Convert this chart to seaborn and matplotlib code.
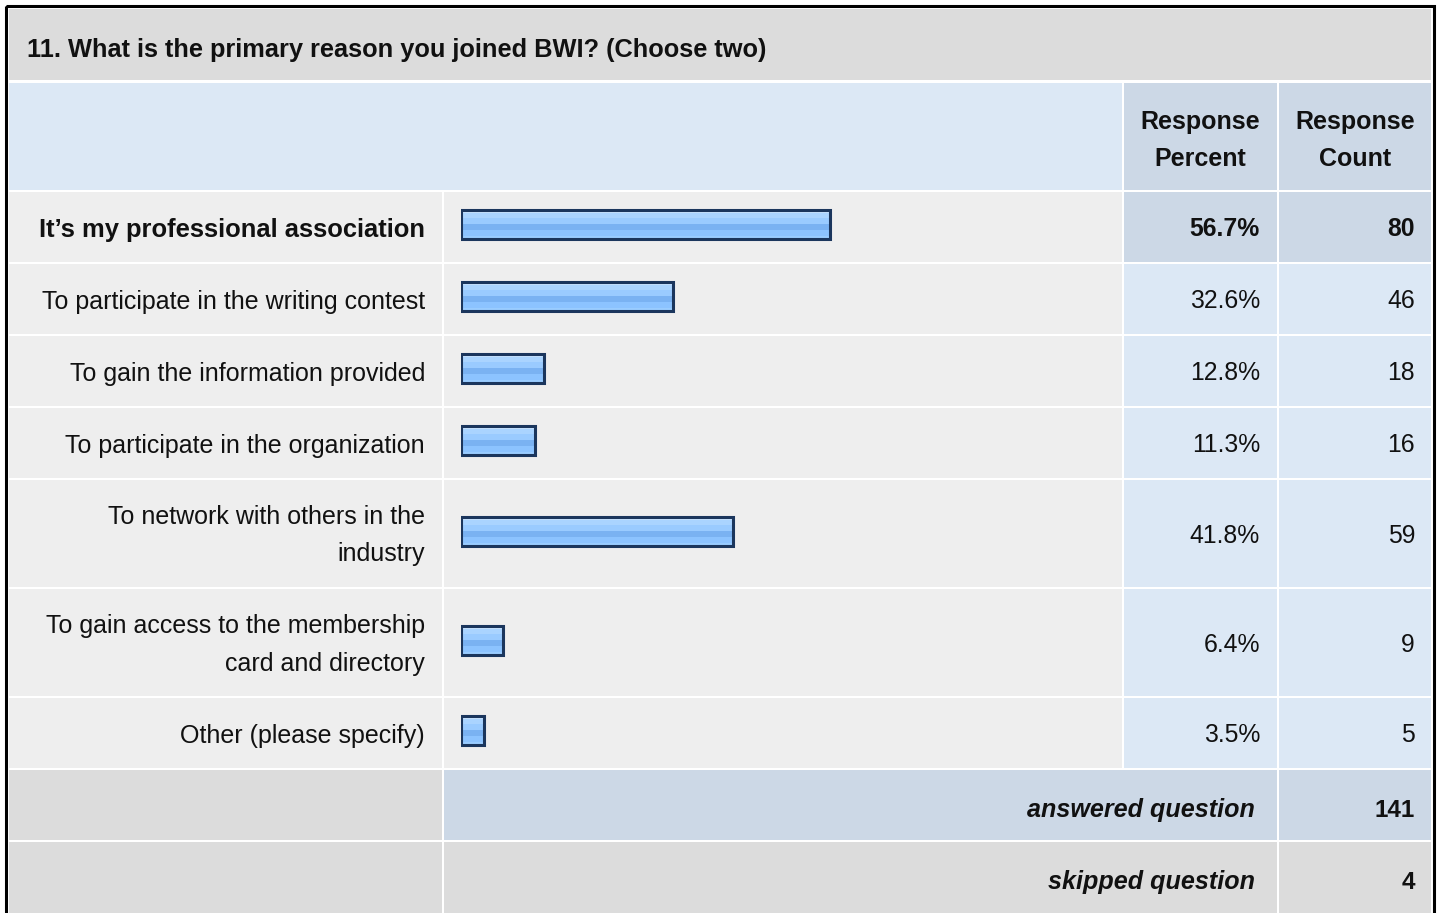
import matplotlib
matplotlib.use("Agg")
import matplotlib.pyplot as plt
from matplotlib.patches import Rectangle
from matplotlib.colors import to_rgb
import numpy as np
import seaborn as sns


title = "11. What is the primary reason you joined BWI? (Choose two)"
answer_labels = [
    "It’s my professional association",
    "To participate in the writing contest",
    "To gain the information provided",
    "To participate in the organization",
    "To network with others in the\nindustry",
    "To gain access to the membership\ncard and directory",
    "Other (please specify)",
]
response_percent = [56.7, 32.6, 12.8, 11.3, 41.8, 6.4, 3.5]
response_count = [80, 46, 18, 16, 59, 9, 5]
answered_question = 141
skipped_question = 4


W, H = 1440, 913
sns.set_theme(style="white")
plt.rcParams['font.family'] = ['Liberation Sans', 'DejaVu Sans']

GREY = "#dcdcdc"
LIGHT = "#eeeeee"
BLUE = "#dce8f5"
BLUE_DARK = "#ccd8e6"
INK = "#111111"

# column edges (px) and row layout
cols = [(9, 442), (444, 1122), (1124, 1277), (1279, 1431)]
row_tops = [192, 264, 336, 408, 480, 589, 698]
row_heights = [70, 70, 70, 70, 107, 107, 70]
line_gap = 37

fig = plt.figure(figsize=(W / 100, H / 100), dpi=100)
fig.patch.set_facecolor("white")
ax = fig.add_axes([0, 0, 1, 1])
ax.set_xlim(0, W)
ax.set_ylim(H, 0)
ax.axis("off")


def cell(x0, x1, y0, y1, color):
    ax.add_patch(Rectangle((x0, y0), x1 - x0, y1 - y0, facecolor=color, edgecolor="none", zorder=1))


def text_lines(x, yc, s, **kw):
    lines = s.split("\n")
    start = yc - (len(lines) - 1) * line_gap / 2
    for i, ln in enumerate(lines):
        ax.text(x, start + i * line_gap, ln, va="center_baseline", zorder=5, **kw)


# title row
cell(9, 1431, 9, 80, GREY)
ax.text(27, 48, title, fontsize=18.3, fontweight="bold", va="center_baseline", color=INK)

# header row
cell(9, 1122, 83, 190, BLUE)
cell(1124, 1277, 83, 190, BLUE_DARK)
cell(1279, 1431, 83, 190, BLUE_DARK)
text_lines(1200, 138, "Response\nPercent", fontsize=18, fontweight="bold", ha="center", color=INK)
text_lines(1355, 138, "Response\nCount", fontsize=18, fontweight="bold", ha="center", color=INK)

centers = []
for i, (top, h) in enumerate(zip(row_tops, row_heights)):
    bottom = top + h
    yc = top + h / 2
    centers.append(yc - 2)
    stat_bg = BLUE_DARK if i == 0 else BLUE
    cell(*cols[0], top, bottom, LIGHT)
    cell(*cols[1], top, bottom, LIGHT)
    cell(*cols[2], top, bottom, stat_bg)
    cell(*cols[3], top, bottom, stat_bg)
    weight = "bold" if i == 0 else "normal"
    size = 18.4 if i == 0 else 18
    text_lines(425, yc, answer_labels[i], fontsize=size, fontweight=weight, ha="right", color=INK)
    ax.text(1260, yc, f"{response_percent[i]:.1f}%", fontsize=17.8, fontweight=weight, ha="right",
            va="center_baseline", color=INK, zorder=5)
    ax.text(1415, yc, f"{response_count[i]}", fontsize=17.8, fontweight=weight, ha="right",
            va="center_baseline", color=INK, zorder=5)

# summary rows
cell(9, 442, 770, 840, GREY)
cell(444, 1277, 770, 840, BLUE_DARK)
cell(1279, 1431, 770, 840, BLUE_DARK)
cell(9, 442, 842, 920, GREY)
cell(444, 1277, 842, 920, GREY)
cell(1279, 1431, 842, 920, GREY)
ax.text(1255, 808, "answered question", fontsize=18.1, fontweight="bold", fontstyle="italic",
        ha="right", va="center_baseline", color=INK)
ax.text(1415, 808, f"{answered_question}", fontsize=17.5, fontweight="bold",
        ha="right", va="center_baseline", color=INK)
ax.text(1255, 880, "skipped question", fontsize=18.1, fontweight="bold", fontstyle="italic",
        ha="right", va="center_baseline", color=INK)
ax.text(1415, 880, f"{skipped_question}", fontsize=17.5, fontweight="bold",
        ha="right", va="center_baseline", color=INK)

# outer frame
ax.add_patch(Rectangle((5.5, 6.5), 1428, 1000, fill=False, edgecolor="black", linewidth=2.2, zorder=6))

# bars
bx0, bx1 = 461, 1112
ax_bar = fig.add_axes([bx0 / W, 0, (bx1 - bx0) / W, 1])
ax_bar.patch.set_alpha(0)
sns.barplot(x=response_percent, y=centers, orient="h", native_scale=True, width=29 / 72,
            color="#99ccff", edgecolor="#1b365d", linewidth=2.2, ax=ax_bar)

bands = [("#c6e2ff", 3), ("#aad4ff", 4), ("#9acbff", 6), ("#7ab2f2", 5), ("#8cc3ff", 5), ("#99ccff", 3)]
grad = np.array([to_rgb(c) for c, n in bands for _ in range(n)])[:, None, :]
for p in list(ax_bar.patches):
    bb = p.get_bbox()
    im = ax_bar.imshow(grad, extent=(bb.x0, bb.x1, bb.y1, bb.y0), aspect="auto",
                       interpolation="nearest", zorder=2)
    im.set_clip_path(p)
    p.set_facecolor("none")
    p.set_zorder(3)

ax_bar.set_xlim(0, 100)
ax_bar.set_ylim(H, 0)
ax_bar.axis("off")

fig.savefig("out.png", dpi=100, facecolor="white")
